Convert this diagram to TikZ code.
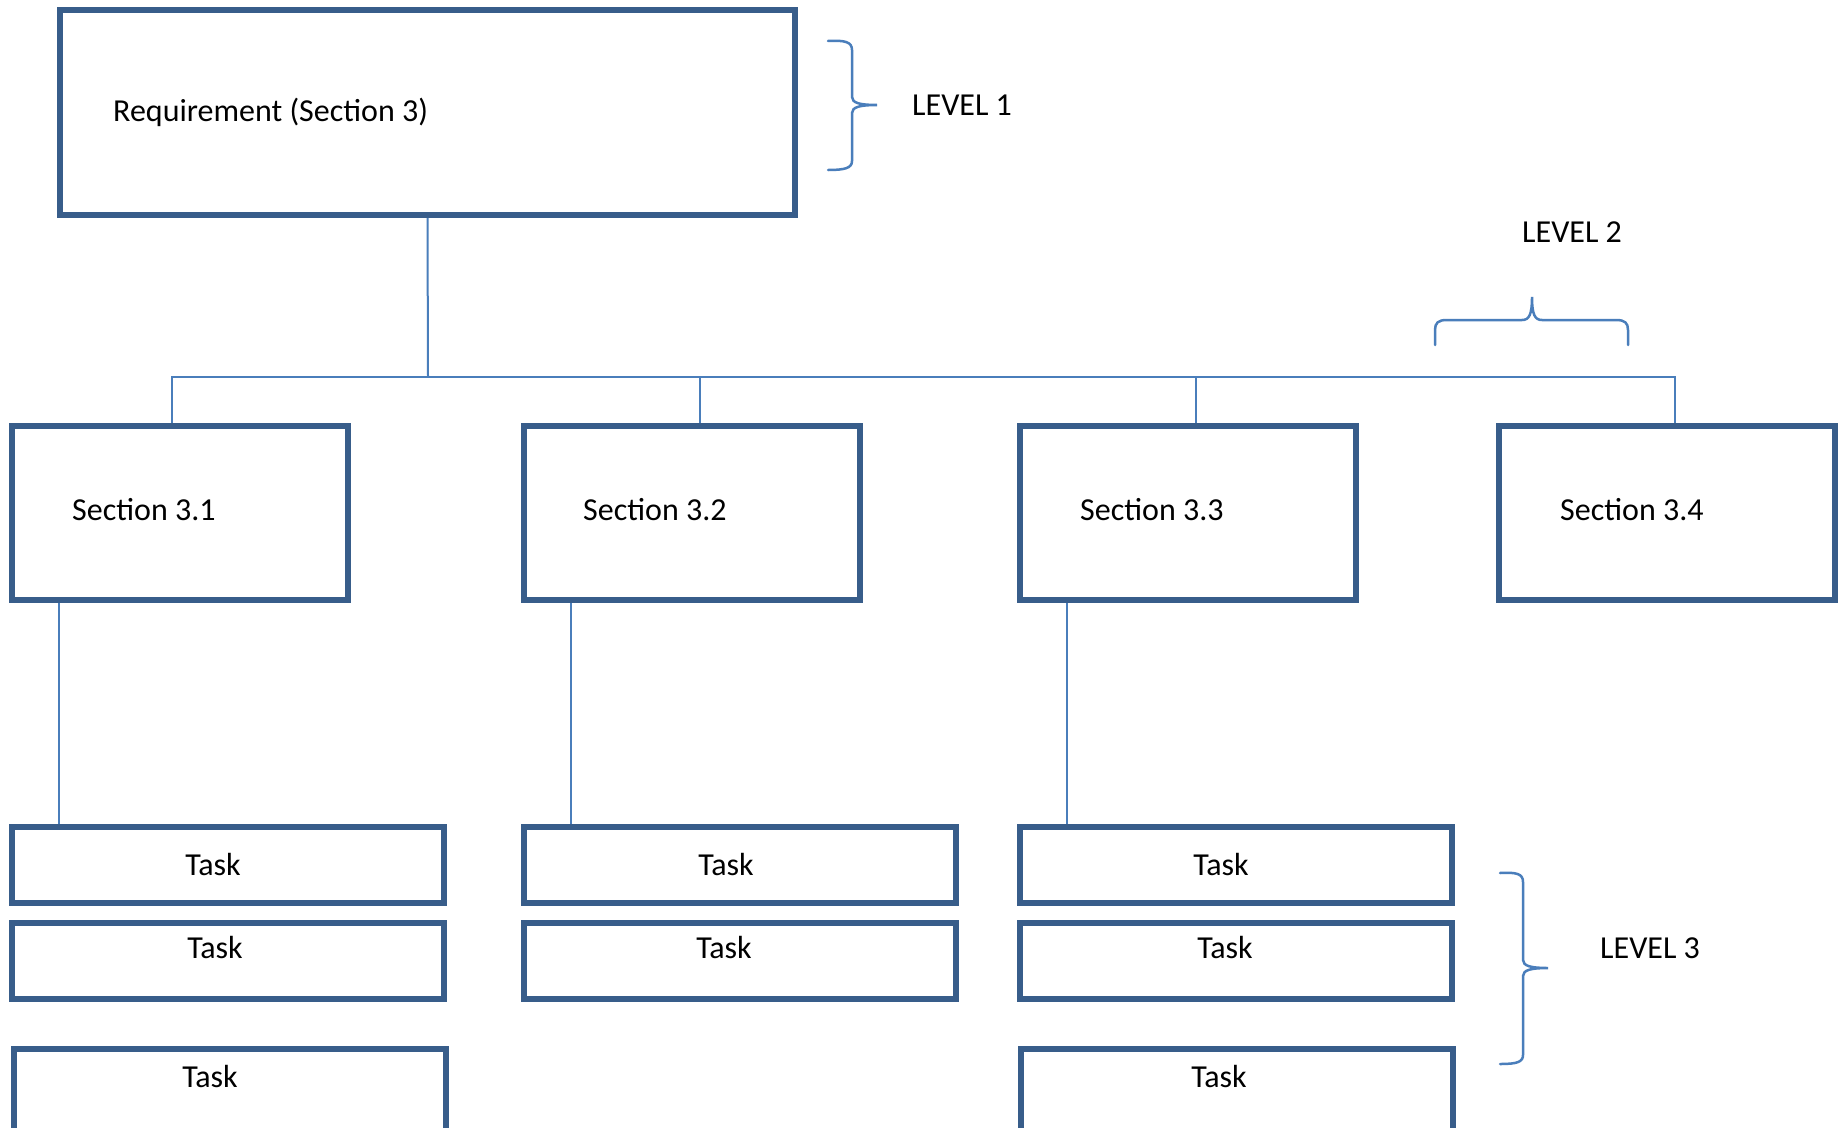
\documentclass[tikz,border=0pt]{standalone}
\usepackage{fontspec}
\setmainfont{Carlito}
\usetikzlibrary{calc}
\definecolor{boxblue}{RGB}{56,93,138}
\definecolor{lineblue}{RGB}{74,126,187}
\tikzset{
  box/.style={draw=boxblue, line width=6pt, rectangle, inner sep=0pt, fill=white},
  reqbox/.style={box, minimum width=735pt, minimum height=205pt},
  secbox/.style={box, minimum width=336pt, minimum height=174pt},
  taskbox/.style={box, minimum width=432pt, minimum height=76pt},
  conn/.style={draw=lineblue, line width=2pt},
  brace/.style={draw=lineblue, line width=2.5pt, line cap=round},
  txt/.style={inner sep=0pt, font=\fontsize{32}{38}\selectfont, text=black},
}
\begin{document}
\begin{tikzpicture}[x=1pt, y=-1pt]
\useasboundingbox (0,0) rectangle (1847,1127);
\fill[white] (0,0) rectangle (1847,1127);
\clip (0,0) rectangle (1847,1127);

% Level 1
\node[reqbox] (req) at (427.5,112.5) {};
\node[txt, anchor=base west] (reqt) at (113,121) {Requirement (Section 3)};

% Level 2
\node[secbox] (s1) at (180,513) {};
\node[secbox] (s2) at (692,513) {};
\node[secbox] (s3) at (1188,513) {};
\node[secbox] (s4) at (1667,513) {};
\node[txt, anchor=base west] (s1t) at (72,520) {Section 3.1};
\node[txt, anchor=base west] (s2t) at (583,520) {Section 3.2};
\node[txt, anchor=base west] (s3t) at (1080,520) {Section 3.3};
\node[txt, anchor=base west] (s4t) at (1560,520) {Section 3.4};

% Level 3
\node[taskbox] (t11) at (227.5,865) {};
\node[taskbox] (t12) at (227.5,961) {};
\node[taskbox, minimum height=92pt] (t13) at (229.5,1094.5) {};
\node[taskbox] (t21) at (740,865) {};
\node[taskbox] (t22) at (740,961) {};
\node[taskbox] (t31) at (1235.5,865) {};
\node[taskbox] (t32) at (1235.5,961) {};
\node[taskbox, minimum height=92pt] (t33) at (1237,1094.5) {};
\node[txt, anchor=base] (t11t) at (213,875) {Task};
\node[txt, anchor=base] (t12t) at (215,958) {Task};
\node[txt, anchor=base] (t13t) at (210,1087) {Task};
\node[txt, anchor=base] (t21t) at (726,875) {Task};
\node[txt, anchor=base] (t22t) at (724,958) {Task};
\node[txt, anchor=base] (t31t) at (1221,875) {Task};
\node[txt, anchor=base] (t32t) at (1225,958) {Task};
\node[txt, anchor=base] (t33t) at (1219,1087) {Task};

% connectors level 1 -> 2
\coordinate (hub) at (428,377);
\coordinate (d1) at ($(s1.north)+(-8,0)$);
\coordinate (d2) at ($(s2.north)+(8,0)$);
\coordinate (d3) at ($(s3.north)+(8,0)$);
\coordinate (d4) at ($(s4.north)+(8,0)$);
\draw[conn] (req.south) -- (hub);
\draw[conn] (d1) |- (hub) -| (d4);
\draw[conn] (d2) -- (d2 |- hub);
\draw[conn] (d3) -- (d3 |- hub);

% connectors level 2 -> 3
\coordinate (e1) at ($(s1.south west)+(50,0)$);
\coordinate (e2) at ($(s2.south west)+(50,0)$);
\coordinate (e3) at ($(s3.south west)+(50,0)$);
\draw[conn] (e1) -- (e1 |- t11.north);
\draw[conn] (e2) -- (e2 |- t21.north);
\draw[conn] (e3) -- (e3 |- t31.north);

% braces and level labels
\draw[brace] (828,41) .. controls (845,40) and (852,42) .. (852,50) -- (852,97)
  .. controls (852,103) and (860,105) .. (877,105)
  .. controls (860,105) and (852,107) .. (852,113) -- (852,161)
  .. controls (852,168) and (845,170) .. (828,170);
\node[txt, anchor=base west] (l1) at (912,115) {LEVEL 1};

\draw[brace] (1435,345) -- (1435,330) .. controls (1435,323) and (1438,320) .. (1447,320) -- (1522,320)
  .. controls (1529,320) and (1532,315) .. (1532,297)
  .. controls (1532,315) and (1535,320) .. (1542,320) -- (1616,320)
  .. controls (1625,320) and (1628,323) .. (1628,330) -- (1628,345);
\node[txt, anchor=base west] (l2) at (1522,242) {LEVEL 2};

\draw[brace] (1500,873) .. controls (1517,872) and (1523,874) .. (1523,882) -- (1523,960)
  .. controls (1523,966) and (1531,968) .. (1548,968)
  .. controls (1531,968) and (1523,970) .. (1523,976) -- (1523,1055)
  .. controls (1523,1062) and (1517,1064) .. (1500,1064);
\node[txt, anchor=base west] (l3) at (1600,958) {LEVEL 3};
\end{tikzpicture}
\end{document}
